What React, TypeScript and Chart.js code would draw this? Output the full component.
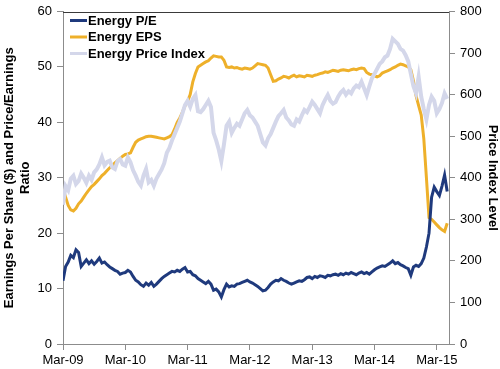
import React, { useEffect, useRef } from "react";
import { Chart, registerables } from "chart.js";

Chart.register(...registerables);

// ---- data (x = months since Mar-09, one sample every half month) ----
const xTickLabels = ["Mar-09", "Mar-10", "Mar-11", "Mar-12", "Mar-13", "Mar-14", "Mar-15"];
const monthStep = 0.5;
const xMaxMonths = 74.35;

const peRatio = [
  11.4, 14.0, 14.8, 16.0, 15.6, 17.0, 16.5, 14.0, 14.6, 15.2, 14.5, 15.0,
  14.4, 14.9, 15.5, 14.6, 14.8, 14.3, 13.9, 13.6, 13.3, 13.1, 12.6, 12.8,
  12.9, 13.3, 13.0, 12.2, 11.5, 11.2, 10.7, 10.4, 11.0, 10.6, 11.1, 10.4,
  10.8, 11.3, 11.8, 12.2, 12.5, 12.8, 13.1, 13.0, 13.3, 13.1, 13.5, 13.8,
  13.0, 13.1, 12.5, 12.3, 11.8, 11.5, 11.2, 10.9, 11.3, 10.8, 9.7, 9.9,
  9.4, 8.5, 9.8, 10.8, 10.3, 10.5, 10.4, 10.8, 10.9, 11.1, 11.3, 11.5,
  11.2, 11.0, 10.7, 10.4, 10.0, 9.6, 9.7, 10.2, 10.8, 11.2, 11.5, 11.4,
  11.8, 11.5, 11.3, 11.0, 10.8, 11.0, 11.2, 11.4, 11.3, 11.6, 12.0, 12.1,
  11.8, 12.2, 12.0, 12.3, 12.2, 12.0, 12.4, 12.3, 12.5, 12.6, 12.4, 12.7,
  12.5, 12.8, 12.6, 12.9, 12.7, 12.5, 12.8, 13.0, 12.7, 12.9, 12.6, 13.0,
  13.4, 13.7, 13.9, 14.1, 14.0, 14.3, 14.6, 15.0, 14.5, 14.7, 14.3, 14.1,
  13.8, 13.6, 12.4, 13.9, 14.2, 14.0, 14.5, 15.5, 17.5, 20.0, 26.5, 28.3,
  27.5, 26.8, 28.5, 30.5, 27.5,
];

const epsValues = [
  28.0, 26.5, 25.0, 24.2, 24.0, 24.5, 25.3, 25.8, 26.5, 27.2, 27.8, 28.4,
  28.8, 29.3, 29.8, 30.4, 30.8, 31.3, 31.8, 32.2, 32.7, 33.1, 33.5, 33.9,
  34.2, 34.3, 34.5, 35.5, 36.4, 36.8, 37.0, 37.2, 37.4, 37.5, 37.5, 37.4,
  37.3, 37.2, 37.1, 37.0, 37.2, 37.4, 37.8, 38.8, 40.0, 40.8, 41.8, 43.0,
  43.8, 45.0, 47.3, 48.8, 50.0, 50.3, 50.6, 50.9, 51.1, 51.6, 52.0, 51.9,
  51.8, 51.8, 51.2, 50.0, 49.9, 50.0, 49.8, 49.9, 49.7, 49.6, 49.8, 49.7,
  49.6, 49.8, 50.2, 50.6, 50.5, 50.4, 50.3, 49.8, 48.6, 47.4, 47.5, 47.8,
  48.0, 48.3, 48.2, 48.0, 48.3, 48.5, 48.2, 48.4, 48.3, 48.2, 48.5, 48.4,
  48.3, 48.5, 48.6, 48.8, 48.9, 49.1, 49.0, 49.2, 49.4, 49.3, 49.2, 49.4,
  49.5, 49.4, 49.3, 49.5, 49.6, 49.5, 49.7, 49.8, 49.7, 49.0, 48.7, 48.6,
  48.4, 48.2, 48.4, 48.9, 49.1, 49.3, 49.5, 49.8, 50.0, 50.3, 50.5, 50.4,
  50.2, 50.0, 49.5, 47.5, 44.8, 43.0, 41.3, 37.0, 30.0, 22.8, 22.5, 22.0,
  21.5, 21.0, 20.6, 20.3, 21.8,
];

const priceIndex = [
  335, 380, 370, 398, 405, 385, 392, 410, 400, 388, 405, 395,
  413, 420, 432, 449, 430, 438, 441, 425, 421, 440, 445, 432,
  429, 449, 437, 418, 405, 390, 381, 405, 421, 389, 395, 381,
  398, 409, 420, 435, 460, 472, 490, 505, 520, 535, 555, 575,
  585, 571, 590, 599, 560, 558, 565, 575, 585, 570, 508, 490,
  468, 440, 480, 525, 535, 508, 520, 530, 525, 540, 555, 563,
  550, 545, 535, 525, 505, 485, 478, 495, 505, 520, 535, 548,
  555, 563, 545, 538, 528, 525, 540, 535, 550, 563, 558, 570,
  583, 575, 565, 555, 575, 588, 599, 585, 578, 582, 595, 605,
  611, 600, 608, 603, 615, 622, 618, 631, 615, 599, 620, 639,
  650, 662, 674, 680, 690, 694, 710, 734, 728, 722, 710, 706,
  695, 680, 650, 620, 603, 643, 595, 565, 540, 575, 595, 585,
  555, 565, 580, 603, 590,
];

const seriesLabels = ["Energy P/E", "Energy EPS", "Energy Price Index"];
const seriesColors = ["#1F3A7D", "#EEB02A", "#D4D7EA"];

const FONT = '"Liberation Sans", Arial, Helvetica, sans-serif';

const toPoints = (arr: number[]) => arr.map((v, i) => ({ x: i * monthStep, y: v }));

const overlayPlugin = {
  id: "overlay",
  afterDraw(chart: any) {
    const { ctx, chartArea } = chart;
    ctx.save();
    // top frame line
    ctx.strokeStyle = "#3a3a3a";
    ctx.lineWidth = 1;
    ctx.beginPath();
    ctx.moveTo(chartArea.left, Math.round(chartArea.top) + 0.5);
    ctx.lineTo(chartArea.right, Math.round(chartArea.top) + 0.5);
    ctx.stroke();
    // legend inside plot (top-left)
    ctx.font = `bold 13px ${FONT}`;
    ctx.textBaseline = "middle";
    ctx.textAlign = "left";
    chart.data.datasets.forEach((ds: any, i: number) => {
      const y = chartArea.top + 9 + i * 16.5;
      ctx.strokeStyle = ds.borderColor;
      ctx.lineWidth = 3;
      ctx.beginPath();
      ctx.moveTo(chartArea.left + 7, y);
      ctx.lineTo(chartArea.left + 24, y);
      ctx.stroke();
      ctx.fillStyle = "#000";
      ctx.fillText(ds.label, chartArea.left + 25, y + 0.5);
    });
    ctx.restore();
  },
};

export default function App() {
  const canvasRef = useRef<HTMLCanvasElement | null>(null);

  useEffect(() => {
    if (!canvasRef.current) return;
    const axisGray = "#8c8c8c";
    const gridOpts = { drawOnChartArea: false, drawTicks: true, tickLength: 6, color: axisGray };
    const chart = new Chart(canvasRef.current, {
      type: "line",
      data: {
        datasets: [
          {
            label: seriesLabels[0],
            data: toPoints(peRatio),
            borderColor: seriesColors[0],
            backgroundColor: seriesColors[0],
            borderWidth: 3,
            pointRadius: 0,
            tension: 0,
            yAxisID: "y",
            order: 1,
          },
          {
            label: seriesLabels[1],
            data: toPoints(epsValues),
            borderColor: seriesColors[1],
            backgroundColor: seriesColors[1],
            borderWidth: 3,
            pointRadius: 0,
            tension: 0,
            yAxisID: "y",
            order: 2,
          },
          {
            label: seriesLabels[2],
            data: toPoints(priceIndex),
            borderColor: seriesColors[2],
            backgroundColor: seriesColors[2],
            borderWidth: 4,
            pointRadius: 0,
            tension: 0,
            yAxisID: "y1",
            order: 0,
          },
        ],
      },
      options: {
        animation: false,
        responsive: false,
        maintainAspectRatio: false,
        layout: { padding: { top: 7, left: 0, right: 0, bottom: 0 } },
        plugins: { legend: { display: false }, tooltip: { enabled: false } },
        scales: {
          x: {
            type: "linear",
            min: 0,
            max: xMaxMonths,
            afterBuildTicks: (axis: any) => {
              axis.ticks = xTickLabels.map((_, i) => ({ value: i * 12 }));
            },
            afterFit: (axis: any) => {
              axis.height = 25;
            },
            ticks: {
              callback: (v: any) => xTickLabels[Math.round(Number(v) / 12)],
              maxRotation: 0,
              autoSkip: false,
              color: "#000",
              padding: 3,
              font: { size: 13, family: FONT },
            },
            grid: gridOpts,
            border: { color: axisGray },
          },
          y: {
            position: "left",
            min: 0,
            max: 60,
            afterFit: (axis: any) => {
              axis.width = 63;
            },
            ticks: { stepSize: 10, color: "#000", padding: 5, font: { size: 13, family: FONT, lineHeight: 1 } },
            grid: gridOpts,
            border: { color: axisGray },
            title: {
              display: true,
              text: ["Earnings Per Share ($) and Price/Earnings", "Ratio"],
              color: "#000",
              font: { size: 13, weight: "bold", family: FONT },
              padding: { top: 2, bottom: 0 },
            },
          },
          y1: {
            position: "right",
            min: 0,
            max: 800,
            afterFit: (axis: any) => {
              axis.width = 51;
            },
            ticks: { stepSize: 100, color: "#000", padding: 5, font: { size: 13, family: FONT, lineHeight: 1 } },
            grid: gridOpts,
            border: { color: axisGray },
            title: {
              display: true,
              text: "Price Index Level",
              color: "#000",
              font: { size: 13, weight: "bold", family: FONT },
              padding: { top: 0, bottom: 0 },
            },
          },
        },
      } as any,
      plugins: [overlayPlugin],
    });
    return () => chart.destroy();
  }, []);

  return (
    <div style={{ position: "absolute", left: 0, top: 0, width: 500, height: 369, background: "#fff" }}>
      <canvas ref={canvasRef} width={500} height={369} style={{ display: "block", width: 500, height: 369 }} />
    </div>
  );
}
